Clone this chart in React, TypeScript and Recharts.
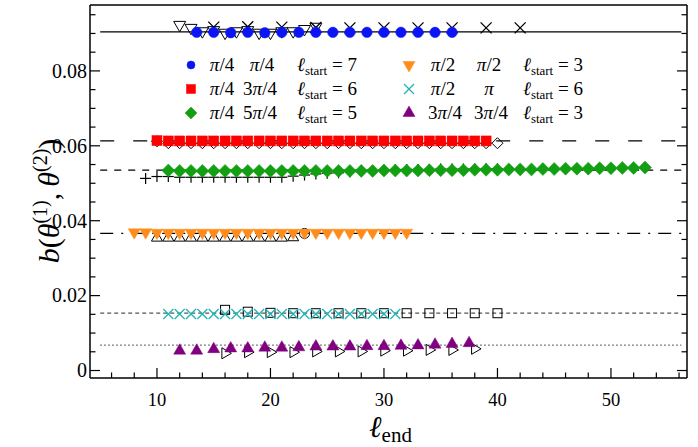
import React from "react";
import { ScatterChart, Scatter, XAxis, YAxis, ReferenceLine } from "recharts";

const FONT = "'Liberation Serif', 'Times New Roman', Times, serif";

const BLUE = "#0a14f5";
const RED = "#ff0000";
const GREEN = "#12a012";
const ORANGE = "#ff8c1a";
const CYAN = "#22b4b4";
const PURPLE = "#800080";
const BLACK = "#000000";

// colored series (legend entries)
const blueX = [13.5, 15, 16.5, 18, 19.5, 21, 22.5, 24, 25.5, 27, 28.5, 30, 31.5, 33, 34.5, 36];
const blueY = [0.0903, 0.0903, 0.0902, 0.0903, 0.0902, 0.0903, 0.0903, 0.0903, 0.0903, 0.0903, 0.0903, 0.0903, 0.0903, 0.0903, 0.0903, 0.0903];

const redX = [10, 11, 12, 13, 14, 15, 16, 17, 18, 19, 20, 21, 22, 23, 24, 25, 26, 27, 28, 29, 30, 31, 32, 33, 34, 35, 36, 37, 38, 39];
const redY = [0.0614, 0.0613, 0.0613, 0.0613, 0.0613, 0.0613, 0.0613, 0.0613, 0.0613, 0.0613, 0.0613, 0.0613, 0.0613, 0.0613, 0.0613, 0.0613, 0.0613, 0.0613, 0.0613, 0.0613, 0.0613, 0.0613, 0.0613, 0.0613, 0.0613, 0.0613, 0.0613, 0.0613, 0.0613, 0.0613];

const greenX = [11, 12, 13, 14, 15, 16, 17, 18, 19, 20, 21, 22, 23, 24, 25, 26, 27, 28, 29, 30, 31, 32, 33, 34, 35, 36, 37, 38, 39, 40, 41, 42, 43, 44, 45, 46, 47, 48, 49, 50, 51, 52, 53];
const greenY = [0.0534, 0.0533, 0.0533, 0.0533, 0.0533, 0.0533, 0.0533, 0.0533, 0.0533, 0.0533, 0.0533, 0.0533, 0.0533, 0.0533, 0.0533, 0.0533, 0.0533, 0.0533, 0.0533, 0.0534, 0.0534, 0.0534, 0.0534, 0.0535, 0.0535, 0.0535, 0.0535, 0.0536, 0.0536, 0.0536, 0.0537, 0.0537, 0.0537, 0.0538, 0.0538, 0.0539, 0.0539, 0.0539, 0.054, 0.054, 0.0541, 0.0541, 0.0542];

const orangeX = [8, 9, 10, 11, 12, 13, 14, 15, 16, 17, 18, 19, 20, 21, 22, 23, 24, 25, 26, 27, 28, 29, 30, 31, 32];
const orangeY = [0.0369, 0.0369, 0.0368, 0.0368, 0.0368, 0.0368, 0.0368, 0.0368, 0.0368, 0.0368, 0.0368, 0.0368, 0.0368, 0.0368, 0.0368, 0.0368, 0.0368, 0.0368, 0.0368, 0.0368, 0.0368, 0.0368, 0.0368, 0.0368, 0.0368];

const cyanX = [11, 12, 13, 14, 15, 16, 17, 18, 19, 20, 21, 22, 23, 24, 25, 26, 27, 28, 29, 30, 31];
const cyanY = [0.0151, 0.0151, 0.0151, 0.0151, 0.0151, 0.0151, 0.0151, 0.0151, 0.0151, 0.0151, 0.0151, 0.0151, 0.0151, 0.0151, 0.0151, 0.0151, 0.0151, 0.0151, 0.0151, 0.0151, 0.0151];

const purpleX = [12, 13.5, 15, 16.5, 18, 19.5, 21, 22.5, 24, 25.5, 27, 28.5, 30, 31.5, 33, 34.5, 36, 37.5];
const purpleY = [0.0053, 0.0053, 0.0057, 0.0059, 0.0059, 0.0061, 0.0061, 0.0062, 0.0064, 0.0064, 0.0064, 0.0065, 0.0065, 0.0066, 0.0067, 0.0069, 0.0071, 0.0073];

// black open comparison series
const triDownX = [12, 13, 14, 15, 16, 17, 18, 19, 20, 21, 22, 23, 24];
const triDownY = [0.0923, 0.0915, 0.0906, 0.0909, 0.0902, 0.0906, 0.0909, 0.0902, 0.0902, 0.0906, 0.0906, 0.0912, 0.0918];

const crossX = [15, 18, 21, 24, 27, 30, 33, 36, 39, 42];
const crossY = [0.0917, 0.0918, 0.0917, 0.0916, 0.0915, 0.0915, 0.0915, 0.0915, 0.0915, 0.0915];

const diamondX = [10, 11, 12, 13, 14, 15, 16, 17, 18, 19, 20, 21, 22, 23, 24, 25, 26, 27, 28, 29, 30, 31, 32, 33, 34, 35, 36, 37, 38, 39, 40];
const diamondY = [0.0612, 0.0607, 0.0607, 0.0607, 0.0607, 0.0607, 0.0607, 0.0607, 0.0607, 0.0607, 0.0607, 0.0607, 0.0607, 0.0607, 0.0607, 0.0607, 0.0607, 0.0607, 0.0607, 0.0607, 0.0607, 0.0607, 0.0607, 0.0607, 0.0607, 0.0607, 0.0607, 0.0607, 0.0607, 0.0607, 0.0607];

const plusX = [9, 10, 11, 12, 13, 14, 15, 16, 17, 18, 19, 20, 21, 22, 23, 24, 25, 26, 27, 28, 29, 30, 31, 32, 33, 34, 35, 36, 37, 38, 39, 40];
const plusY = [0.0513, 0.0518, 0.0518, 0.0516, 0.0516, 0.0516, 0.0516, 0.0516, 0.0516, 0.0516, 0.0516, 0.0516, 0.0516, 0.0519, 0.0522, 0.0525, 0.0527, 0.0528, 0.0531, 0.0534, 0.0534, 0.0535, 0.0536, 0.0537, 0.0537, 0.0537, 0.0538, 0.0538, 0.0538, 0.0538, 0.0539, 0.0539];

const triUpX = [10, 11, 12, 13, 14, 15, 16, 17, 18, 19, 20, 21, 22];
const triUpY = [0.0354, 0.0354, 0.0354, 0.0354, 0.0354, 0.0354, 0.0354, 0.0354, 0.0354, 0.0354, 0.0354, 0.0354, 0.0355];

const circleX = [23];
const circleY = [0.0366];

const squareX = [16, 18, 20, 22, 24, 26, 28, 30, 32, 34, 36, 38, 40];
const squareY = [0.0162, 0.0157, 0.0154, 0.0153, 0.0153, 0.0153, 0.0153, 0.0153, 0.0153, 0.0153, 0.0153, 0.0153, 0.0153];

const triRightX = [16, 18, 20, 22, 24, 26, 28, 30, 32, 34, 36, 38];
const triRightY = [0.0046, 0.0049, 0.0049, 0.0049, 0.0051, 0.0051, 0.0051, 0.0053, 0.0053, 0.0055, 0.0055, 0.0058];

// horizontal reference levels
const refLevels = [0.0904, 0.0613, 0.0535, 0.0366, 0.0153, 0.0068];
const refFrom = 5;
const refTo = 56.2;

// axes
const xDomain = [4.1, 56.7];
const yDomain = [-0.002, 0.0976];
const xTicks = [6, 8, 10, 12, 14, 16, 18, 20, 22, 24, 26, 28, 30, 32, 34, 36, 38, 40, 42, 44, 46, 48, 50, 52, 54, 56];
const yTicks = [0, 0.005, 0.01, 0.015, 0.02, 0.025, 0.03, 0.035, 0.04, 0.045, 0.05, 0.055, 0.06, 0.065, 0.07, 0.075, 0.08, 0.085, 0.09, 0.095];

// legend text
const legTheta1 = ["π/4", "π/4", "π/4", "π/2", "π/2", "3π/4"];
const legTheta2 = ["π/4", "3π/4", "5π/4", "π/2", "π", "3π/4"];
const legStart = [7, 6, 5, 3, 6, 3];

const pts = (xs: number[], ys: number[]) => xs.map((x, i) => ({ x, y: ys[i] }));

type Kind = "circle" | "square" | "diamond" | "triDown" | "triUp" | "triRight" | "cross" | "plus";

function Glyph({ cx, cy, kind, size, color, open }: { cx: number; cy: number; kind: Kind; size: number; color: string; open?: boolean }) {
  const h = size / 2;
  const ht = size * 0.866;
  const fill = open ? "none" : color;
  const sw = open ? 1 : 0.5;
  switch (kind) {
    case "circle":
      return <circle cx={cx} cy={cy} r={h} fill={fill} stroke={color} strokeWidth={sw} />;
    case "square":
      return <rect x={cx - h} y={cy - h} width={size} height={size} fill={fill} stroke={color} strokeWidth={sw} />;
    case "diamond":
      return <polygon points={`${cx},${cy - h} ${cx + h},${cy} ${cx},${cy + h} ${cx - h},${cy}`} fill={fill} stroke={color} strokeWidth={sw} />;
    case "triDown":
      return <polygon points={`${cx - h},${cy - ht / 3} ${cx + h},${cy - ht / 3} ${cx},${cy + (2 * ht) / 3}`} fill={fill} stroke={color} strokeWidth={sw} />;
    case "triUp":
      return <polygon points={`${cx - h},${cy + ht / 3} ${cx + h},${cy + ht / 3} ${cx},${cy - (2 * ht) / 3}`} fill={fill} stroke={color} strokeWidth={sw} />;
    case "triRight":
      return <polygon points={`${cx - ht / 3},${cy - h} ${cx - ht / 3},${cy + h} ${cx + (2 * ht) / 3},${cy}`} fill={fill} stroke={color} strokeWidth={sw} />;
    case "cross":
      return (
        <g stroke={color} strokeWidth={1.3}>
          <line x1={cx - h} y1={cy - h} x2={cx + h} y2={cy + h} />
          <line x1={cx - h} y1={cy + h} x2={cx + h} y2={cy - h} />
        </g>
      );
    case "plus":
      return (
        <g stroke={color} strokeWidth={1.2}>
          <line x1={cx - h} y1={cy} x2={cx + h} y2={cy} />
          <line x1={cx} y1={cy - h} x2={cx} y2={cy + h} />
        </g>
      );
  }
  return null;
}

const series = [
  { id: "triDown", data: pts(triDownX, triDownY), kind: "triDown" as Kind, size: 12, color: BLACK, open: true },
  { id: "cross", data: pts(crossX, crossY), kind: "cross" as Kind, size: 11, color: BLACK, open: true },
  { id: "diamond", data: pts(diamondX, diamondY), kind: "diamond" as Kind, size: 11, color: BLACK, open: true },
  { id: "plus", data: pts(plusX, plusY), kind: "plus" as Kind, size: 11, color: BLACK, open: true },
  { id: "triUp", data: pts(triUpX, triUpY), kind: "triUp" as Kind, size: 11, color: BLACK, open: true },
  { id: "circle", data: pts(circleX, circleY), kind: "circle" as Kind, size: 10, color: BLACK, open: true },
  { id: "square", data: pts(squareX, squareY), kind: "square" as Kind, size: 9, color: BLACK, open: true },
  { id: "triRight", data: pts(triRightX, triRightY), kind: "triRight" as Kind, size: 11, color: BLACK, open: true },
  { id: "blue", data: pts(blueX, blueY), kind: "circle" as Kind, size: 10.5, color: BLUE },
  { id: "red", data: pts(redX, redY), kind: "square" as Kind, size: 10, color: RED },
  { id: "green", data: pts(greenX, greenY), kind: "diamond" as Kind, size: 13, color: GREEN },
  { id: "orange", data: pts(orangeX, orangeY), kind: "triDown" as Kind, size: 12, color: ORANGE },
  { id: "cyan", data: pts(cyanX, cyanY), kind: "cross" as Kind, size: 10, color: CYAN },
  { id: "purple", data: pts(purpleX, purpleY), kind: "triUp" as Kind, size: 12, color: PURPLE },
];

const refStyles = [
  { stroke: "#000", dash: undefined as string | undefined },
  { stroke: "#000", dash: "14 19" },
  { stroke: "#000", dash: "7 7" },
  { stroke: "#000", dash: "13 8 2 8" },
  { stroke: "#555", dash: "4 3" },
  { stroke: "#555", dash: "1.5 2.5" },
];

const legendMarks: { kind: Kind; color: string; size: number }[] = [
  { kind: "circle", color: BLUE, size: 8 },
  { kind: "square", color: RED, size: 9 },
  { kind: "diamond", color: GREEN, size: 12 },
  { kind: "triDown", color: ORANGE, size: 12 },
  { kind: "cross", color: CYAN, size: 10 },
  { kind: "triUp", color: PURPLE, size: 12 },
];
const legRowY = [65, 89, 113, 65, 89, 113];
const legMarkX = [191, 191, 191, 409, 409, 409];
const legTok1C = [222, 222, 222, 443, 443, 445];
const legTok2C = [262, 260, 260, 489, 489, 491];
const legTok3X = [297, 297, 297, 523, 523, 523];

const MAJOR = 10;
const MINOR = 5.5;

const BottomTick = (p: any) => {
  const v = p.payload.value;
  const major = v % 10 === 0;
  return (
    <g>
      <line x1={p.x} x2={p.x} y1={p.y} y2={p.y - (major ? MAJOR : MINOR)} stroke="#000" strokeWidth={1.2} />
      {major && (
        <text x={p.x} y={p.y + 28} textAnchor="middle" fontSize={18.5} style={{ fontFamily: FONT }} fill="#000">
          {v}
        </text>
      )}
    </g>
  );
};

const TopTick = (p: any) => {
  const major = p.payload.value % 10 === 0;
  return <line x1={p.x} x2={p.x} y1={p.y} y2={p.y + (major ? MAJOR : MINOR)} stroke="#000" strokeWidth={1.2} />;
};

const isMajorY = (v: number) => Math.abs(v * 50 - Math.round(v * 50)) < 1e-6;

const LeftTick = (p: any) => {
  const v = p.payload.value;
  const major = isMajorY(v);
  return (
    <g>
      <line x1={p.x} x2={p.x + (major ? MAJOR : MINOR)} y1={p.y} y2={p.y} stroke="#000" strokeWidth={1.2} />
      {major && (
        <text x={p.x - 3} y={p.y} dy="0.34em" textAnchor="end" fontSize={20} style={{ fontFamily: FONT }} fill="#000">
          {v === 0 ? "0" : v.toFixed(2)}
        </text>
      )}
    </g>
  );
};

const RightTick = (p: any) => {
  const major = isMajorY(p.payload.value);
  return <line x1={p.x} x2={p.x - (major ? MAJOR : MINOR)} y1={p.y} y2={p.y} stroke="#000" strokeWidth={1.2} />;
};

const YLabel = (props: any) => {
  const vb = props.viewBox;
  const bx = vb.x + 59;
  const by = vb.y + 196;
  return (
    <text x={bx} y={by} transform={`rotate(-90 ${bx} ${by})`} textAnchor="middle" style={{ fontFamily: FONT }} fontSize={30} fill="#000">
      <tspan fontStyle="italic">b</tspan>
      <tspan>(</tspan>
      <tspan fontStyle="italic">θ</tspan>
      <tspan fontSize={20} dy={-12}>(1)</tspan>
      <tspan dy={12}>,{"\u2009"}</tspan>
      <tspan fontStyle="italic">θ</tspan>
      <tspan fontSize={20} dy={-12}>(2)</tspan>
      <tspan dy={12}>)</tspan>
    </text>
  );
};

const XLabel = (props: any) => {
  const vb = props.viewBox;
  const x = vb.x + vb.width / 2 + 2;
  const y = vb.y + 59;
  return (
    <text x={x} y={y} textAnchor="middle" style={{ fontFamily: FONT }} fontSize={30} fill="#000">
      <tspan fontStyle="italic">ℓ</tspan>
      <tspan fontSize={21} dy={5}>end</tspan>
    </text>
  );
};

const math = (s: string) => {
  const i = s.indexOf("π");
  return (
    <>
      {s.slice(0, i)}
      <i>π</i>
      {s.slice(i + 1)}
    </>
  );
};

function LegendBox() {
  return (
    <>
      {legendMarks.map((m, i) => {
        const top = legRowY[i] - 12;
        const text = { position: "absolute" as const, top, lineHeight: "24px", fontSize: 19, fontFamily: FONT, whiteSpace: "nowrap" as const, color: "#000" };
        return (
          <React.Fragment key={i}>
            <svg style={{ position: "absolute", left: legMarkX[i] - 8, top: legRowY[i] - 8 }} width={16} height={16}>
              <Glyph cx={8} cy={8} kind={m.kind} size={m.size} color={m.color} />
            </svg>
            <div style={{ ...text, left: legTok1C[i] - 30, width: 60, textAlign: "center" }}>{math(legTheta1[i])}</div>
            <div style={{ ...text, left: legTok2C[i] - 30, width: 60, textAlign: "center" }}>{math(legTheta2[i])}</div>
            <div style={{ ...text, left: legTok3X[i] }}>
              <i>ℓ</i>
              <span style={{ fontSize: "0.68em", position: "relative", top: "0.3em" }}>start</span>
              {" = "}
              {legStart[i]}
            </div>
          </React.Fragment>
        );
      })}
    </>
  );
}

export default function App() {
  return (
    <div style={{ position: "absolute", left: 0, top: 0, width: 698, height: 447, background: "#fff", fontFamily: FONT }}>
      <ScatterChart width={698} height={447} margin={{ top: 4, right: 10, bottom: 0, left: 0 }}>
        <XAxis
          dataKey="x"
          type="number"
          domain={xDomain}
          allowDataOverflow
          ticks={xTicks}
          interval={0}
          tickLine={false}
          tickSize={0}
          tickMargin={0}
          tick={BottomTick}
          height={69}
          axisLine={{ stroke: "#000", strokeWidth: 1.5 }}
          label={{ content: XLabel }}
        />
        <XAxis
          xAxisId="top"
          orientation="top"
          type="number"
          domain={xDomain}
          allowDataOverflow
          ticks={xTicks}
          interval={0}
          tickLine={false}
          tickSize={0}
          tickMargin={0}
          tick={TopTick}
          height={1}
          axisLine={{ stroke: "#000", strokeWidth: 1.5 }}
        />
        <YAxis
          dataKey="y"
          type="number"
          domain={yDomain}
          allowDataOverflow
          ticks={yTicks}
          interval={0}
          tickLine={false}
          tickSize={0}
          tickMargin={0}
          tick={LeftTick}
          width={90}
          axisLine={{ stroke: "#000", strokeWidth: 1.5 }}
          label={{ content: YLabel }}
        />
        <YAxis
          yAxisId="right"
          orientation="right"
          type="number"
          domain={yDomain}
          allowDataOverflow
          ticks={yTicks}
          interval={0}
          tickLine={false}
          tickSize={0}
          tickMargin={0}
          tick={RightTick}
          width={1}
          axisLine={{ stroke: "#000", strokeWidth: 1.5 }}
        />
        {refLevels.map((v, i) => (
          <ReferenceLine
            key={i}
            segment={[
              { x: refFrom, y: v },
              { x: refTo, y: v },
            ]}
            stroke={refStyles[i].stroke}
            strokeWidth={1.3}
            strokeDasharray={refStyles[i].dash}
          />
        ))}
        {series.map((s) => (
          <Scatter
            key={s.id}
            data={s.data}
            isAnimationActive={false}
            shape={(p: any) => <Glyph cx={p.cx} cy={p.cy} kind={s.kind} size={s.size} color={s.color} open={s.open} />}
          />
        ))}
      </ScatterChart>
      <LegendBox />
    </div>
  );
}
